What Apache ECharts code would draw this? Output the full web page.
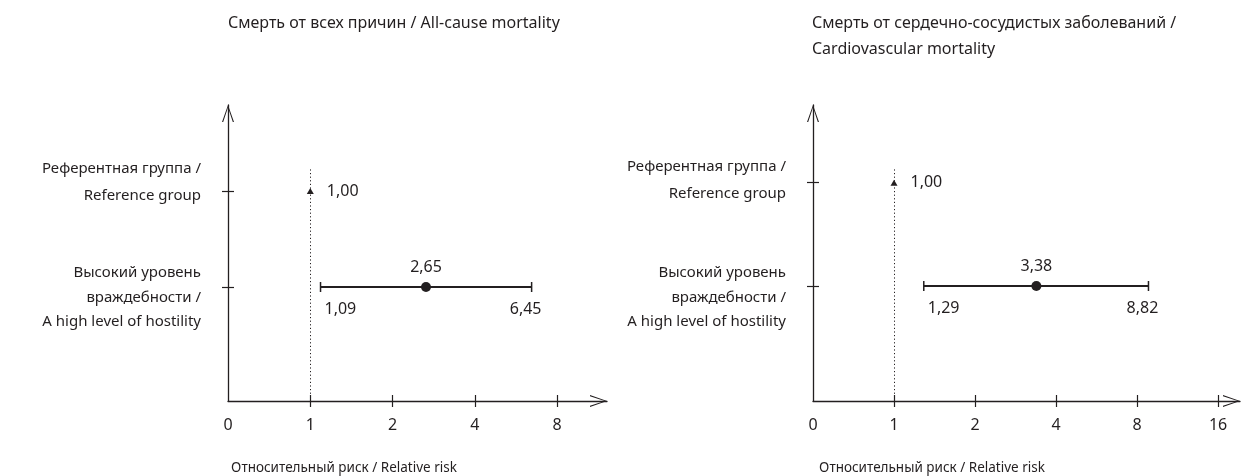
<!DOCTYPE html>
<html><head><meta charset="utf-8">
<script src="https://cdn.jsdelivr.net/npm/echarts@6/dist/echarts.min.js"></script>
<style>html,body{margin:0;padding:0;background:#fff}#c{width:1242px;height:476px}</style>
</head><body><div id="c"></div>
<script>
// ---- data ----
const panelTitles = ['Смерть от всех причин / All-cause mortality',
  'Смерть от сердечно-сосудистых заболеваний /\nCardiovascular mortality'];
const categories = [
  ['Высокий уровень', 'враждебности /', 'A high level of hostility'],
  ['Референтная группа /', 'Reference group']
];
const xAxisName = 'Относительный риск / Relative risk';
const xTickValues = [[1, 2, 4, 8], [1, 2, 4, 8, 16]];
const xLabelValues = [[0.5, 1, 2, 4, 8], [0.5, 1, 2, 4, 8, 16]];
const referenceRR = [1.00, 1.00];
const hostilityRR = [2.65, 3.38];
const hostilityLow = [1.09, 1.29];
const hostilityHigh = [6.45, 8.82];

// ---- layout / style ----
const ink = '#231f20';
const font = 'Noto Sans';
const fs = 15;
const panels = [
  { left: 228, right: 635, xMax: 12.17, yMin: -1.1875, yMax: 1.896, dotTop: 1.23, titleX: 228, nameCx: 344, padH: 21, padR: 18 },
  { left: 813, right: 2, xMax: 19.3, yMin: -1.113, yMax: 1.752, dotTop: 1.14, titleX: 812, nameCx: 932, padH: 23, padR: 4 }
];
const chevron = 'path://M6,0L12,17L10.8,17L6,2.4L1.2,17L0,17Z';
const fmt = v => v.toFixed(2).replace('.', ',');
const xFmt = v => (v < 0.75 ? '0' : String(Math.round(v)));
const makeYFmt = () => v => {
  const idx = Math.round(v);
  const lines = categories[idx];
  if (!lines) return '';
  const body = lines.map(s => (idx === 0 ? '{h|' : '{r|') + s + '}').join('\n');
  return idx === 0 ? '{sh| }\n' + body : body + '\n{sr| }';
};

const chart = echarts.init(document.getElementById('c'), null, { renderer: 'canvas' });
const grid = [], xAxis = [], yAxis = [], series = [], title = [], graphic = [];
const txt = { color: ink, fontFamily: font, fontSize: 16, fontWeight: 'normal' };
const tickStyle = { color: ink, width: 1.2 };

panels.forEach((p, i) => {
  grid.push({ left: p.left, right: p.right, top: 105, bottom: 75, containLabel: false });
  title.push({ text: panelTitles[i], left: p.titleX, top: 10, padding: 0, textStyle: Object.assign({ lineHeight: 26 }, txt) });
  graphic.push({ type: 'text', x: p.nameCx, y: 468, silent: true,
    style: { text: xAxisName, fill: ink, font: '13.5px "' + font + '"', textAlign: 'center', textVerticalAlign: 'middle', align: 'center', verticalAlign: 'middle' } });
  const xBase = { type: 'log', logBase: 2, min: 0.5, max: p.xMax, gridIndex: i, position: 'bottom', splitLine: { show: false } };
  xAxis.push(Object.assign({}, xBase, {
    axisLine: { show: true, onZero: false, lineStyle: { color: ink, width: 1.3 }, symbol: ['none', chevron], symbolSize: [12, 17], symbolOffset: [0, -8.5] },
    axisTick: { show: true, inside: false, length: 6, lineStyle: tickStyle, customValues: xTickValues[i] },
    axisLabel: { show: true, margin: 16, color: ink, fontFamily: font, fontSize: 16, customValues: xLabelValues[i], formatter: xFmt }
  }));
  xAxis.push(Object.assign({}, xBase, {
    axisLine: { show: false, onZero: false },
    axisTick: { show: true, inside: true, length: 6, lineStyle: tickStyle, customValues: xTickValues[i] },
    axisLabel: { show: false }
  }));
  const yBase = { type: 'value', min: p.yMin, max: p.yMax, gridIndex: i, position: 'left', splitLine: { show: false } };
  yAxis.push(Object.assign({}, yBase, {
    axisLine: { show: true, onZero: false, lineStyle: { color: ink, width: 1.3 }, symbol: ['none', chevron], symbolSize: [12, 17], symbolOffset: [0, -8.5] },
    axisTick: { show: true, inside: false, length: 6, lineStyle: tickStyle, customValues: [0, 1] },
    axisLabel: { show: true, margin: 27, color: ink, fontFamily: font, fontSize: fs, align: 'right',
      customValues: [0, 1], formatter: makeYFmt(),
      rich: {
        h: { fontFamily: font, fontSize: fs, color: ink, lineHeight: 24.5, align: 'right' },
        r: { fontFamily: font, fontSize: fs, color: ink, lineHeight: 27, align: 'right' },
        sh: { fontSize: 2, lineHeight: p.padH },
        sr: { fontSize: 2, lineHeight: p.padR }
      } }
  }));
  yAxis.push(Object.assign({}, yBase, {
    axisLine: { show: false, onZero: false },
    axisTick: { show: true, inside: true, length: 6, lineStyle: tickStyle, customValues: [0, 1] },
    axisLabel: { show: false }
  }));
  const xi = i * 2, yi = i * 2;
  // reference group
  series.push({
    type: 'scatter', xAxisIndex: xi, yAxisIndex: yi, symbol: 'triangle', symbolSize: [7, 6],
    itemStyle: { color: ink, opacity: 1 }, silent: true,
    data: [[referenceRR[i], 1]],
    label: { show: true, position: 'right', distance: 13, color: ink, fontFamily: font, fontSize: 16, formatter: d => fmt(d.value[0]) },
    markLine: { silent: true, symbol: 'none', label: { show: false },
      lineStyle: { type: [1.2, 2.4], color: ink, width: 1, opacity: 1 },
      data: [[{ coord: [referenceRR[i], p.yMin] }, { coord: [referenceRR[i], p.dotTop] }]] },
    z: 5
  });
  // CI bars
  series.push({
    type: 'custom', xAxisIndex: xi, yAxisIndex: yi, silent: true,
    data: [[hostilityLow[i], hostilityHigh[i], hostilityRR[i], 0]],
    encode: { x: [0, 1], y: 3 },
    renderItem: (params, api) => {
      const p0 = api.coord([api.value(0), api.value(3)]);
      const p1 = api.coord([api.value(1), api.value(3)]);
      const ts = { fill: ink, font: '16px "' + font + '"', verticalAlign: 'middle' };
      return { type: 'group', children: [
        { type: 'line', shape: { x1: p0[0], y1: p0[1], x2: p1[0], y2: p1[1] }, style: { stroke: ink, lineWidth: 2 } },
        { type: 'line', shape: { x1: p0[0], y1: p0[1] - 5, x2: p0[0], y2: p0[1] + 5 }, style: { stroke: ink, lineWidth: 1.5 } },
        { type: 'line', shape: { x1: p1[0], y1: p1[1] - 5, x2: p1[0], y2: p1[1] + 5 }, style: { stroke: ink, lineWidth: 1.5 } },
        { type: 'text', x: p0[0] + 4, y: p0[1] + 22, style: Object.assign({ text: fmt(api.value(0)), align: 'left' }, ts) },
        { type: 'text', x: p1[0] - 6, y: p1[1] + 22, style: Object.assign({ text: fmt(api.value(1)), align: 'center' }, ts) }
      ] };
    },
    z: 4
  });
  // point estimate
  series.push({
    type: 'scatter', xAxisIndex: xi, yAxisIndex: yi, symbol: 'circle', symbolSize: 10,
    itemStyle: { color: ink, opacity: 1 }, silent: true,
    data: [[hostilityRR[i], 0]],
    label: { show: true, position: 'top', distance: 7, color: ink, fontFamily: font, fontSize: 16, formatter: d => fmt(d.value[0]) },
    z: 6
  });
});

chart.setOption({ animation: false, backgroundColor: '#fff', title, grid, xAxis, yAxis, series, graphic });
</script></body></html>
